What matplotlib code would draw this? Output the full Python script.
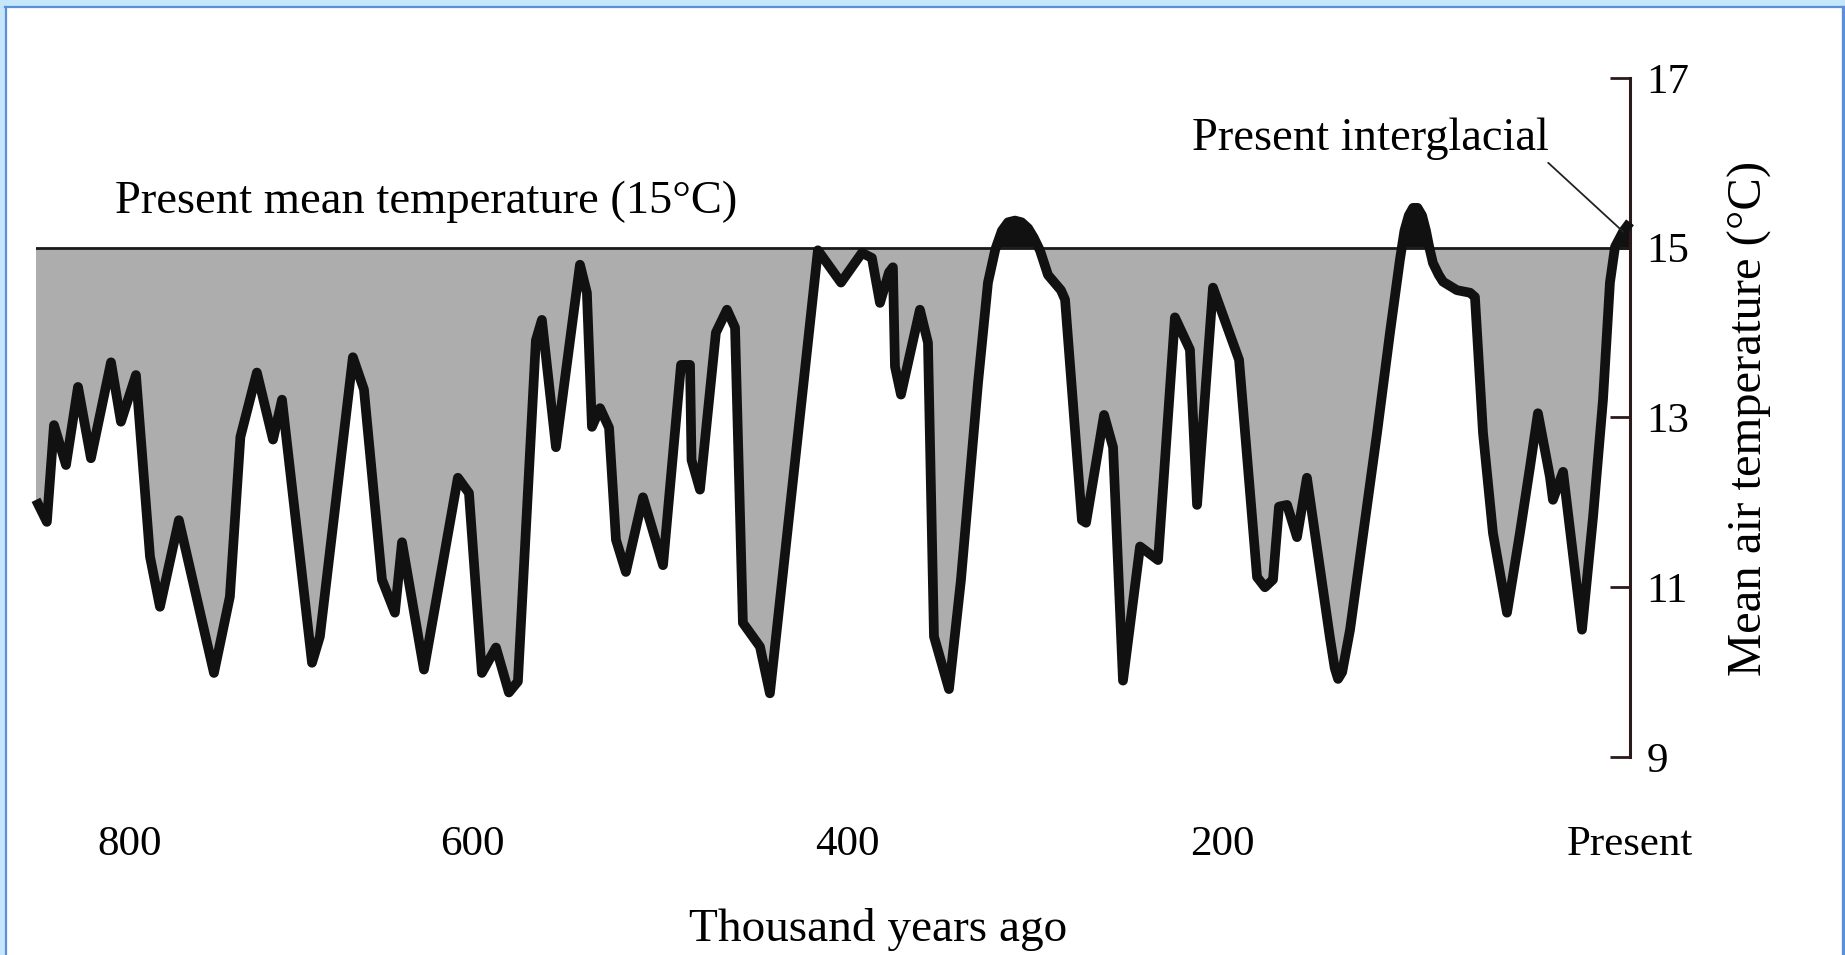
import matplotlib
matplotlib.use("Agg")
import matplotlib.pyplot as plt
from matplotlib.lines import Line2D
from matplotlib.patches import Rectangle
import numpy as np

W, H = 1845, 955

# Thousand years before present and mean air temperature (deg C)
kyr_ago = [850.1, 844.3, 840.5, 834.1, 827.7, 820.8, 810.1, 804.8, 796.8, 789.3,
           784.0, 773.9, 755.2, 746.7, 741.1, 732.3, 723.7, 718.9, 702.9, 698.7,
           681.1, 675.2, 665.6, 658.7, 654.9, 643.2, 625.1, 619.2, 612.3, 604.8,
           597.9, 593.1, 583.5, 580.3, 572.8, 560.0, 556.3, 553.6, 549.3, 544.5,
           540.8, 535.5, 526.4, 515.7, 506.1, 501.3, 500.5, 496.0, 487.5, 481.6,
           477.3, 473.1, 464.0, 458.7, 433.1, 420.8, 409.6, 404.3, 400.0, 395.2,
           393.1, 392.0, 388.8, 378.7, 374.4, 371.2, 363.2, 356.8, 347.7, 342.4,
           338.5, 335.0, 331.7, 328.0, 324.5, 321.0, 318.0, 314.7, 310.4, 303.5,
           301.3, 292.3, 290.1, 280.5, 275.7, 270.4, 261.3, 251.7, 242.7, 234.7,
           230.9, 222.4, 208.5, 198.9, 194.7, 190.4, 187.2, 182.9, 177.6, 172.3,
           160.0, 157.5, 155.7, 153.5, 149.3, 134.9, 128.0, 122.7, 120.3, 118.0,
           115.7, 113.3, 110.9, 108.8, 107.0, 105.1, 102.0, 99.7, 92.3, 85.3,
           82.7, 78.4, 73.1, 65.6, 58.7, 53.3, 49.1, 42.7, 41.1, 35.7,
           25.6, 19.7, 14.4, 10.7, 8.0, 3.7, 0.0]
temp_c = [12.03, 11.77, 12.91, 12.44, 13.36, 12.52, 13.65, 12.95, 13.50, 11.36,
          10.77, 11.79, 9.99, 10.89, 12.77, 13.53, 12.74, 13.21, 10.11, 10.42,
          13.71, 13.33, 11.09, 10.70, 11.53, 10.03, 12.29, 12.11, 9.99, 10.29,
          9.76, 9.89, 13.91, 14.15, 12.65, 14.80, 14.47, 12.89, 13.11, 12.88,
          11.56, 11.18, 12.06, 11.26, 13.62, 13.62, 12.50, 12.15, 14.00, 14.27,
          14.06, 10.58, 10.30, 9.75, 14.97, 14.59, 14.94, 14.88, 14.35, 14.71,
          14.77, 13.60, 13.27, 14.27, 13.88, 10.42, 9.80, 11.09, 13.41, 14.59,
          14.98, 15.20, 15.30, 15.32, 15.30, 15.23, 15.12, 14.97, 14.68, 14.50,
          14.39, 11.79, 11.76, 13.03, 12.65, 9.90, 11.48, 11.32, 14.18, 13.80,
          11.97, 14.53, 13.68, 11.12, 11.00, 11.09, 11.95, 11.97, 11.59, 12.29,
          10.40, 10.05, 9.92, 10.00, 10.50, 12.82, 14.00, 14.86, 15.20, 15.38,
          15.47, 15.47, 15.38, 15.20, 15.00, 14.82, 14.68, 14.60, 14.50, 14.47,
          14.42, 12.82, 11.64, 10.70, 11.64, 12.42, 13.05, 12.30, 12.03, 12.36,
          10.50, 11.83, 13.21, 14.59, 15.01, 15.19, 15.30]

present_mean = 15
y_ticks = [9, 11, 13, 15, 17]
x_ticks = [800, 600, 400, 200, 0]
x_tick_labels = ["800", "600", "400", "200", "Present"]

plt.rcParams['font.family'] = ['Liberation Serif', 'DejaVu Serif']


def fx(px):
    return px / W


def fy(py):
    return 1 - py / H


fig = plt.figure(figsize=(W / 100, H / 100), dpi=100)
ax = fig.add_axes([fx(36), fy(757), fx(1630) - fx(36), fy(78) - fy(757)])

x = np.array(kyr_ago)
t = np.array(temp_c)

# grey below the present mean, black where it is exceeded
ax.fill_between(x, present_mean, t, where=t <= present_mean, interpolate=True,
                color='#adadad', lw=0, zorder=1)
ax.fill_between(x, present_mean, t, where=t >= present_mean, interpolate=True,
                color='#111111', lw=0, zorder=1)
ax.axhline(present_mean, color='#1a1a1a', lw=2, zorder=2)
ax.plot(x, t, color='#111111', lw=7, solid_joinstyle='round',
        solid_capstyle='butt', clip_on=False, zorder=3)

ax.set_xlim(x[0], 0)
ax.set_ylim(9, 17)

for side in ['top', 'bottom', 'left']:
    ax.spines[side].set_visible(False)
ax.spines['right'].set_bounds(9, 17)
ax.spines['right'].set_linewidth(2.2)
ax.spines['right'].set_color('#2a1a1c')

ax.yaxis.tick_right()
ax.set_yticks(y_ticks)
ax.tick_params(axis='y', direction='in', length=14.4, width=2.0, color='#2a1a1c',
               pad=12, labelsize=31)

ax.set_xticks(x_ticks, x_tick_labels)
ax.tick_params(axis='x', length=0, pad=49, labelsize=31)
for lbl in ax.get_xticklabels()[1:-1]:
    lbl.set_ha('right')

fig.text(fx(115), fy(213), "Present mean temperature (15°C)", fontsize=33.5,
         ha='left', va='baseline')
ax.annotate("Present interglacial", xy=(kyr_ago[-2], temp_c[-2]),
            xytext=(fx(1192), fy(150)), textcoords='figure fraction',
            fontsize=33.5, ha='left', va='baseline', annotation_clip=False,
            arrowprops=dict(arrowstyle='-', color='#222222', lw=1.3,
                            shrinkA=0, shrinkB=0, relpos=(0.99, 0.0)))
fig.text(fx(1750), fy(418), "Mean air temperature (°C)", fontsize=35,
         rotation=90, ha='center', va='center')
fig.text(fx(878), fy(941), "Thousand years ago", fontsize=34,
         ha='center', va='baseline')

# light blue page frame
fig.add_artist(Rectangle((0, fy(7)), 1, 7 / H, transform=fig.transFigure,
                         color='#c6e6fb', lw=0))
fig.add_artist(Rectangle((0, 0), 5 / W, 1, transform=fig.transFigure,
                         color='#c6e6fb', lw=0))
fig.add_artist(Line2D([fx(5), fx(1843)], [fy(7.5), fy(7.5)],
                      transform=fig.transFigure, color='#5b8fd8', lw=1.6))
fig.add_artist(Line2D([fx(6), fx(6)], [fy(7), 0],
                      transform=fig.transFigure, color='#5b8fd8', lw=1.6))
fig.add_artist(Line2D([fx(1843), fx(1843)], [fy(7), 0],
                      transform=fig.transFigure, color='#5b8fd8', lw=2.4))

fig.savefig('out.png', dpi=100)
